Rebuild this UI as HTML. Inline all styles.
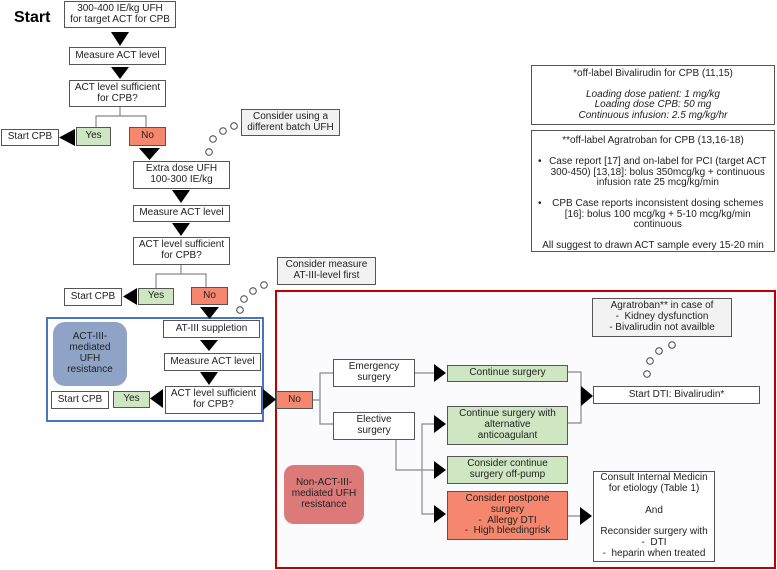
<!DOCTYPE html><html><head><style>
body{margin:0;width:777px;height:570px;background:#fff;position:relative;font-family:"Liberation Sans",sans-serif;overflow:hidden}
.b{position:absolute;box-sizing:border-box;border:1.3px solid #555;background:#fff;font-size:10px;color:#222;display:flex;align-items:center;justify-content:center;text-align:center;line-height:10.8px}
.g{background:#cfe6c3}.r{background:#f5876e}.gr{background:#f2f2f2}
svg{position:absolute;left:0;top:0}
</style></head><body>
<div style="position:absolute;left:14px;top:9px;font-weight:bold;font-size:16px">Start</div>
<div style="position:absolute;left:46px;top:317px;width:218px;height:105px;box-sizing:border-box;border:2px solid #4a74c0"></div>
<div style="position:absolute;left:275px;top:290px;width:501px;height:279px;box-sizing:border-box;border:2.5px solid #c00000;background:#fbfbfe"></div>
<svg width="777" height="570" fill="none" stroke="#888" stroke-width="1.2">
<path d="M120 107V116M96 127V116H146V127M181 265V274M156 288V274H206V288M312 400H320M333 373H320V424H333M414 373H434M396 439V470H434M434 424H422V514H434M567 372H581V423H567M567 516H580"/>
<g fill="#000" stroke="none">
<path d="M111 32H129L120 46Z"/><path d="M111 67H129L120 79Z"/>
<path d="M75 129V146L59 137.5Z"/><path d="M139 148H160L149.5 160Z"/>
<path d="M172 190H190L181 203Z"/><path d="M172 223H190L181 236Z"/>
<path d="M137 288V305L123 296.5Z"/><path d="M200 307H219L209.5 319Z"/>
<path d="M200 340H218L209 351Z"/><path d="M200 372H218L209 385Z"/>
<path d="M163 389V408L150 398.5Z"/><path d="M263 389V410L276 399.5Z"/>
<path d="M434 364V382L446 373Z"/><path d="M434 415V433L446 424Z"/>
<path d="M434 461V479L446 470Z"/><path d="M434 505V523L446 514Z"/>
<path d="M581 386V406L593 396Z"/><path d="M580 507V525L592 516Z"/>
</g>
<g stroke="#444" stroke-width="1">
<circle cx="209" cy="152" r="3.3"/><circle cx="213" cy="139" r="3.3"/><circle cx="223" cy="131" r="3.3"/><circle cx="234" cy="126" r="3.3"/>
<circle cx="240" cy="310" r="3.3"/><circle cx="244" cy="299" r="3.3"/><circle cx="253" cy="291" r="3.3"/><circle cx="264" cy="285" r="3.3"/>
<circle cx="647" cy="374" r="3.3"/><circle cx="650" cy="361" r="3.3"/><circle cx="659" cy="351" r="3.3"/><circle cx="672" cy="345" r="3.3"/>
</g></svg>
<div class="b" style="left:64px;top:1px;width:112px;height:27px">300-400 IE/kg UFH<br>for target ACT for CPB</div>
<div class="b" style="left:69px;top:47px;width:97px;height:18px">Measure ACT level</div>
<div class="b" style="left:69px;top:80px;width:97px;height:27px">ACT level sufficient<br>for CPB?</div>
<div class="b g" style="left:76px;top:127px;width:35px;height:19px">Yes</div>
<div class="b r" style="left:129px;top:127px;width:37px;height:19px">No</div>
<div class="b" style="left:1px;top:129px;width:58px;height:17px">Start CPB</div>
<div class="b gr" style="left:241px;top:109px;width:99px;height:27px">Consider using a<br>different batch UFH</div>
<div class="b" style="left:133px;top:161px;width:97px;height:28px">Extra dose UFH<br>100-300 IE/kg</div>
<div class="b" style="left:133px;top:205px;width:97px;height:17px">Measure ACT level</div>
<div class="b" style="left:133px;top:237px;width:97px;height:28px">ACT level sufficient<br>for CPB?</div>
<div class="b g" style="left:138px;top:288px;width:36px;height:17px">Yes</div>
<div class="b r" style="left:191px;top:287px;width:37px;height:18px">No</div>
<div class="b" style="left:64px;top:288px;width:58px;height:18px">Start CPB</div>
<div class="b gr" style="left:277px;top:257px;width:99px;height:28px">Consider measure<br>AT-III-level first</div>
<div style="position:absolute;left:53px;top:322px;width:74px;height:64px;border-radius:12px;background:#8fa3c6;font-size:10px;line-height:10.8px;display:flex;align-items:center;justify-content:center;text-align:center;color:#222">ACT-III-<br>mediated<br>UFH<br>resistance</div>
<div class="b" style="left:163px;top:320px;width:97px;height:18px">AT-III suppletion</div>
<div class="b" style="left:164px;top:353px;width:97px;height:18px">Measure ACT level</div>
<div class="b" style="left:165px;top:386px;width:97px;height:28px">ACT level sufficient<br>for CPB?</div>
<div class="b g" style="left:113px;top:391px;width:37px;height:17px">Yes</div>
<div class="b" style="left:51px;top:391px;width:58px;height:18px">Start CPB</div>
<div class="b r" style="left:276px;top:391px;width:37px;height:18px">No</div>
<div class="b" style="left:333px;top:359px;width:82px;height:28px">Emergency<br>surgery</div>
<div class="b" style="left:333px;top:412px;width:82px;height:28px">Elective<br>surgery</div>
<div class="b g" style="left:447px;top:365px;width:121px;height:17px">Continue surgery</div>
<div class="b g" style="left:447px;top:406px;width:121px;height:39px">Continue surgery with<br>alternative<br>anticoagulant</div>
<div class="b g" style="left:447px;top:456px;width:121px;height:28px">Consider continue<br>surgery off-pump</div>
<div class="b r" style="left:447px;top:491px;width:121px;height:49px">Consider postpone<br>surgery<br>- &nbsp;Allergy DTI<br>- &nbsp;High bleedingrisk</div>
<div class="b gr" style="left:592px;top:298px;width:140px;height:39px">Agratroban** in case of<br>- &nbsp;Kidney dysfunction<br>- Bivalirudin not availble</div>
<div class="b" style="left:593px;top:386px;width:167px;height:18px">Start DTI: Bivalirudin*</div>
<div class="b" style="left:593px;top:471px;width:122px;height:91px">Consult Internal Medicin<br>for etiology (Table 1)<br><br>And<br><br>Reconsider surgery with<br>- &nbsp;DTI<br>- &nbsp;heparin when treated</div>
<div style="position:absolute;left:284px;top:465px;width:80px;height:59px;border-radius:10px;background:#dc7a7a;font-size:10px;line-height:10.8px;display:flex;align-items:center;justify-content:center;text-align:center;color:#222">Non-ACT-III-<br>mediated UFH<br>resistance</div>
<div class="b" style="left:531px;top:65px;width:244px;height:60px;flex-direction:column;line-height:10.5px">*off-label Bivalirudin for CPB (11,15)<br><br><i>Loading dose patient: 1 mg/kg<br>Loading dose CPB: 50 mg<br>Continuous infusion: 2.5 mg/kg/hr</i></div>
<div class="b" style="left:531px;top:130px;width:244px;height:122px;display:block;padding-top:5px;line-height:10.5px">**off-label Agratroban for CPB (13,16-18)<br><br><div style="display:flex;text-align:center"><span style="padding-left:6px">•</span><span style="flex:1">Case report [17] and on-label for PCI (target ACT 300-450) [13,18]: bolus 350mcg/kg + continuous infusion rate 25 mcg/kg/min</span></div><br><div style="display:flex"><span style="padding-left:6px">•</span><span style="flex:1">CPB Case reports inconsistent dosing schemes [16]: bolus 100 mcg/kg + 5-10 mcg/kg/min continuous</span></div><br>All suggest to drawn ACT sample every 15-20 min</div>
</body></html>
